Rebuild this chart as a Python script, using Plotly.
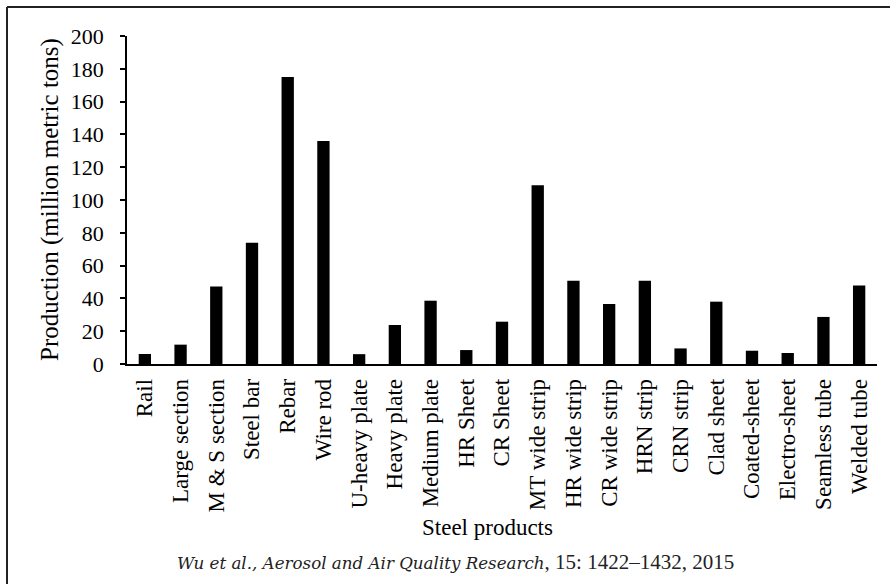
import plotly.graph_objects as go

products = ["Rail", "Large section", "M & S section", "Steel bar", "Rebar", "Wire rod",
            "U-heavy plate", "Heavy plate", "Medium plate", "HR Sheet", "CR Sheet",
            "MT wide strip", "HR wide strip", "CR wide strip", "HRN strip", "CRN strip",
            "Clad sheet", "Coated-sheet", "Electro-sheet", "Seamless tube", "Welded tube"]
production = [6.1, 11.8, 47.2, 74.0, 175.0, 136.0,
              6.0, 23.8, 38.6, 8.5, 25.8,
              109.0, 50.7, 36.6, 50.7, 9.5,
              38.0, 8.1, 6.7, 28.7, 47.8]
y_ticks = [0, 20, 40, 60, 80, 100, 120, 140, 160, 180, 200]

FONT = '"Liberation Serif", "Times New Roman", serif'
L, R, T, B = 127, 13, 36, 220
W, H = 890, 584
pw, ph = W - L - R, H - T - B

def px(x):
    return (x - L) / pw

def py(y):
    return (H - B - y) / ph

fig = go.Figure(go.Bar(x=products, y=production, marker=dict(color="black", line=dict(width=0))))

fig.update_layout(
    width=W, height=H,
    margin=dict(l=L, r=R, t=T, b=B, autoexpand=False),
    paper_bgcolor="white", plot_bgcolor="white",
    bargap=0.655,
    showlegend=False,
    font=dict(family=FONT, color="black"),
    xaxis=dict(
        range=[-0.5, len(products) - 0.5],
        showline=True, linecolor="black", linewidth=1.5,
        ticks="", tickangle=-90, ticklabelstandoff=4,
        tickfont=dict(family=FONT, size=23, color="black"),
        showgrid=False, zeroline=False, fixedrange=True,
    ),
    yaxis=dict(
        range=[0, 200], tickvals=y_ticks,
        showline=True, linecolor="black", linewidth=1.5,
        ticks="outside", ticklen=5, tickwidth=1.5, tickcolor="black",
        ticklabelstandoff=12,
        tickfont=dict(family=FONT, size=22, color="black"),
        showgrid=False, zeroline=False, fixedrange=True,
    ),
    annotations=[
        dict(text="Production (million metric tons)", textangle=-90,
             xref="paper", yref="paper", x=px(50), y=py(200),
             xanchor="center", yanchor="middle", showarrow=False,
             font=dict(family=FONT, size=25, color="black")),
        dict(text="Steel products",
             xref="paper", yref="paper", x=px(487), y=py(527),
             xanchor="center", yanchor="middle", showarrow=False,
             font=dict(family=FONT, size=23, color="black")),
        dict(text="<span style=\"font-family:'DejaVu Serif';font-style:italic;font-size:16.7px\">Wu et al., Aerosol and Air Quality Research</span>, 15: 1422–1432, 2015",
             xref="paper", yref="paper", x=px(455), y=py(562),
             xanchor="center", yanchor="middle", showarrow=False,
             font=dict(family="Liberation Serif", size=21, color="#222")),
    ],
    shapes=[
        dict(type="line", xref="paper", yref="paper",
             x0=px(7), x1=px(W + 5), y0=py(7), y1=py(7),
             line=dict(color="#222", width=2)),
        dict(type="line", xref="paper", yref="paper",
             x0=px(7), x1=px(7), y0=py(7), y1=py(H + 5),
             line=dict(color="#222", width=2)),
    ],
)

fig.write_html("out.html", config={"displayModeBar": False},
               post_script="document.body.style.margin='0';document.body.style.overflow='hidden';")
